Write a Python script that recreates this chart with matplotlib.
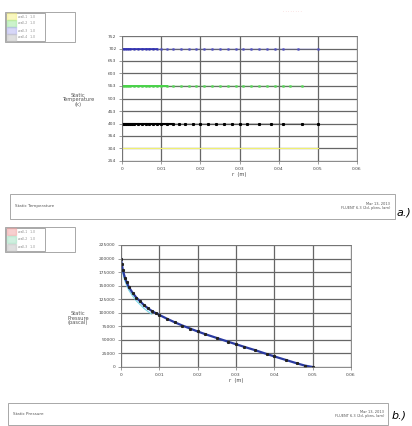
import matplotlib.pyplot as plt
from matplotlib.patches import Rectangle

# static temperature (K) along r (m)
r_blue = [0, 0.0005, 0.001, 0.0015, 0.002, 0.003, 0.004, 0.005, 0.006, 0.007, 0.008, 0.009, 0.010,
          0.0115, 0.013, 0.015, 0.017, 0.019, 0.021, 0.023, 0.025, 0.027, 0.029, 0.031, 0.033,
          0.035, 0.037, 0.039, 0.041, 0.045, 0.050]
t_blue = [702] * len(r_blue)
r_green = [0, 0.0005, 0.001, 0.0015, 0.002, 0.003, 0.004, 0.005, 0.006, 0.007, 0.008, 0.009, 0.010,
           0.0115, 0.013, 0.015, 0.017, 0.019, 0.021, 0.023, 0.025, 0.027, 0.029, 0.031, 0.033,
           0.035, 0.037, 0.039, 0.041, 0.043, 0.046]
t_green = [553] * len(r_green)
r_black = [0, 0.0005, 0.001, 0.0015, 0.002, 0.0025, 0.003, 0.004, 0.005, 0.006, 0.007, 0.008, 0.009,
           0.010, 0.0115, 0.013, 0.0145, 0.016, 0.018, 0.020, 0.022, 0.024, 0.026, 0.028, 0.030,
           0.032, 0.035, 0.038, 0.041, 0.046, 0.050]
t_black = [403] * len(r_black)
r_yellow = [0, 0.010, 0.020, 0.030, 0.040, 0.050]
t_yellow = [304] * len(r_yellow)
t_ticks = [254, 304, 354, 403, 453, 503, 553, 603, 653, 702, 752]

# static pressure (pascal) along r (m)
r_p = [0, 0.0002, 0.0005, 0.001, 0.0015, 0.002, 0.003, 0.004, 0.005, 0.006, 0.007, 0.008, 0.009,
       0.010, 0.012, 0.014, 0.016, 0.018, 0.020, 0.022, 0.025, 0.028, 0.030, 0.032, 0.035,
       0.038, 0.040, 0.043, 0.046, 0.048, 0.050]
p_p = [200000, 190000, 178000, 165000, 156000, 148000, 137000, 128000, 121000, 114000, 108500,
       103500, 99500, 96000, 89000, 82500, 76500, 71000, 65500, 60500, 53500, 46500, 42000,
       37500, 31000, 24000, 19500, 13000, 6500, 2500, 0]
p_ticks = [0, 25000, 50000, 75000, 100000, 125000, 150000, 175000, 200000, 225000]
r_ticks = [0, 0.01, 0.02, 0.03, 0.04, 0.05, 0.06]

W, H = 412, 426
fig = plt.figure(figsize=(W / 100, H / 100), dpi=100)
fs = 3.2


def box(x0, y0, x1, y1, **kw):
    # pixel box -> figure fraction rectangle
    r = Rectangle((x0 / W, 1 - y1 / H), (x1 - x0) / W, (y1 - y0) / H,
                  transform=fig.transFigure, fill=False, lw=0.6, ec='#9a9a9a', **kw)
    fig.patches.append(r)


def style(ax, yticks, ylims):
    ax.set_xlim(0, 0.06)
    ax.set_ylim(*ylims)
    ax.set_xticks(r_ticks)
    ax.set_xticklabels(['0', '0.01', '0.02', '0.03', '0.04', '0.05', '0.06'])
    ax.set_yticks(yticks)
    ax.set_yticklabels([str(v) for v in yticks])
    ax.tick_params(labelsize=fs, length=2, width=0.5, color='#777777', pad=2, labelcolor='#444444')
    ax.grid(True, color='#666666', lw=0.9)
    for s in ax.spines.values():
        s.set_color('#777777')
        s.set_linewidth(0.6)
    ax.set_xlabel('r  (m)', fontsize=fs + 0.5, labelpad=1, color='#444444')


def legend(y0, y1, colors):
    box(5, y0, 75, y1)
    box(6, y0 + 1, 45, y1 - 1)
    n = len(colors)
    h = (y1 - y0 - 2) / n
    for i, c in enumerate(colors):
        yc = y0 + 1 + h * (i + 0.5)
        fig.patches.append(Rectangle((7 / W, 1 - (yc + h / 2 - 0.3) / H), 9 / W, (h - 0.6) / H,
                                     transform=fig.transFigure, color=c, alpha=0.5))
        fig.text(18 / W, 1 - yc / H, 'wall-' + str(i + 1) + '   1.0', fontsize=2.2,
                 color='#888888', va='center')


# a.) temperature
ax1 = fig.add_axes([122 / W, 1 - 161 / H, 235 / W, 125 / H])
ax1.plot(r_yellow, t_yellow, color='#f0f070', lw=0.8)
ax1.plot(r_blue, t_blue, color='#5050c0', lw=0.3, marker='s', ms=0.9, alpha=0.8)
ax1.plot(r_blue[:12], t_blue[:12], color='#2a2ab0', lw=1.1)
ax1.plot(r_green, t_green, color='#5ad85a', lw=0.3, marker='s', ms=1.0, alpha=0.8)
ax1.plot(r_green[:14], t_green[:14], color='#4ad24a', lw=1.4)
ax1.plot(r_black, t_black, color='black', lw=0.3, marker='s', ms=1.2)
ax1.plot(r_black[:16], t_black[:16], color='black', lw=1.5)
style(ax1, t_ticks, (254, 752))
fig.text(78 / W, 1 - 100 / H, 'Static\nTemperature\n(k)', fontsize=fs + 0.5, ha='center',
         va='center', color='#555555', linespacing=0.9)
legend(12, 42, ['#f5f080', '#9be89b', '#b0b0f0', '#c0c0c0'])
fig.text(283 / W, 1 - 12 / H, '. . . . . . . .', fontsize=3, color='#e05050', alpha=0.7)

box(10, 194, 395, 219)
fig.text(15 / W, 1 - 206 / H, 'Static Temperature', fontsize=3, color='#555555', va='center')
fig.text(390 / W, 1 - 206 / H, 'Mar 13, 2013\nFLUENT 6.3 (2d, pbns, lam)', fontsize=2.6,
         color='#555555', ha='right', va='center', linespacing=0.9)
fig.text(397 / W, 1 - 212 / H, 'a.)', fontsize=8, style='italic', va='center')

# b.) pressure
ax2 = fig.add_axes([121 / W, 1 - 367 / H, 230 / W, 122 / H])
ax2.plot(r_p[1:12], [v - 6000 for v in p_p[1:12]], color='#7ad8e8', lw=0.8)
ax2.plot(r_p, p_p, color='#2a3aa0', lw=1.6)
ax2.plot(r_p, p_p, color='#222222', lw=0, marker='s', ms=1.2)
style(ax2, p_ticks, (0, 225000))
fig.text(78 / W, 1 - 318 / H, 'Static\nPressure\n(pascal)', fontsize=fs + 0.5, ha='center',
         va='center', color='#555555', linespacing=0.9)
legend(227, 252, ['#f0a0a0', '#a0e0c0', '#c0c0c0'])

box(8, 403, 388, 425)
fig.text(13 / W, 1 - 414 / H, 'Static Pressure', fontsize=3, color='#555555', va='center')
fig.text(384 / W, 1 - 414 / H, 'Mar 13, 2013\nFLUENT 6.3 (2d, pbns, lam)', fontsize=2.6,
         color='#555555', ha='right', va='center', linespacing=0.9)
fig.text(392 / W, 1 - 416 / H, 'b.)', fontsize=8, style='italic', va='center')

fig.savefig('out.png', dpi=100)
